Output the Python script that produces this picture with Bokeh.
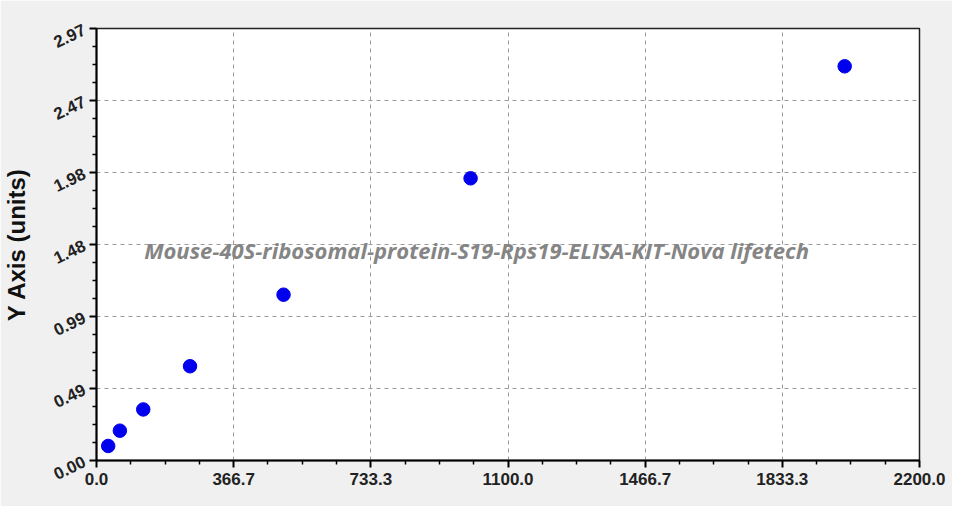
from bokeh.plotting import figure
from bokeh.models import FixedTicker, Label, Range1d
from bokeh.embed import file_html
from bokeh.resources import INLINE

# data
concentration = [31.25, 62.5, 125, 250, 500, 1000, 2000]
od = [0.10, 0.205, 0.351, 0.648, 1.14, 1.94, 2.71]

x_ticks = [0.0, 366.67, 733.33, 1100.0, 1466.67, 1833.33, 2200.0]
x_tick_labels = ["0.0", "366.7", "733.3", "1100.0", "1466.7", "1833.3", "2200.0"]
y_ticks = [0.0, 0.495, 0.99, 1.485, 1.98, 2.475, 2.97]
y_tick_labels = ["0.00", "0.49", "0.99", "1.48", "1.98", "2.47", "2.97"]
watermark = "Mouse-40S-ribosomal-protein-S19-Rps19-ELISA-KIT-Nova lifetech"
y_label = "Y Axis (units)"

BG = "#f0f0f0"

p = figure(width=952, height=506, output_backend="svg", toolbar_location=None,
           x_range=Range1d(0, 2200), y_range=Range1d(0, 2.97),
           min_border_left=95, min_border_top=28, min_border_right=33, min_border_bottom=46)
p.border_fill_color = BG
p.background_fill_color = "white"
p.outline_line_color = "#222222"
p.outline_line_width = 1.5

# ticks
x_minor = []
for i in range(len(x_ticks) - 1):
    step = (x_ticks[i + 1] - x_ticks[i]) / 4
    x_minor += [x_ticks[i] + step * k for k in (1, 2, 3)]
y_minor = []
for i in range(len(y_ticks) - 1):
    step = (y_ticks[i + 1] - y_ticks[i]) / 4
    y_minor += [y_ticks[i] + step * k for k in (1, 2, 3)]

p.xaxis.ticker = FixedTicker(ticks=x_ticks, minor_ticks=x_minor)
p.yaxis.ticker = FixedTicker(ticks=y_ticks, minor_ticks=y_minor)
p.xaxis.major_label_overrides = {t: l for t, l in zip(x_ticks, x_tick_labels)}
p.yaxis.major_label_overrides = {t: l for t, l in zip(y_ticks, y_tick_labels)}

for ax in (p.xaxis, p.yaxis):
    ax.axis_line_color = "black"
    ax.axis_line_width = 2
    ax.major_tick_line_color = "black"
    ax.major_tick_line_width = 2
    ax.minor_tick_line_color = "black"
    ax.minor_tick_line_width = 1.5
    ax.major_tick_in = 0
    ax.major_tick_out = 7
    ax.minor_tick_in = 0
    ax.minor_tick_out = 4
    ax.major_label_text_font = "Liberation Sans"
    ax.major_label_text_font_style = "bold"
    ax.major_label_text_font_size = "17px"
    ax.major_label_text_color = "#222222"

p.yaxis.major_label_orientation = 0.45
p.yaxis.axis_label = y_label
p.yaxis.axis_label_text_font = "Liberation Sans"
p.yaxis.axis_label_text_font_style = "bold"
p.yaxis.axis_label_text_font_size = "24px"
p.yaxis.axis_label_text_color = "#111111"
p.yaxis.axis_label_standoff = 16

p.grid.grid_line_color = "#9a9a9a"
p.grid.grid_line_dash = "4 4"
p.grid.grid_line_width = 1

p.scatter(concentration, od, size=13.5, color="#0000ee", line_color="#0000ee")

p.add_layout(Label(x=1016, y=1.445, text=watermark, text_align="center",
                   text_baseline="middle", text_font="Open Sans",
                   text_font_style="bold italic", text_font_size="22px",
                   text_color="#858585"))

html = file_html(p, INLINE)
open("out.html", "w").write(html)
